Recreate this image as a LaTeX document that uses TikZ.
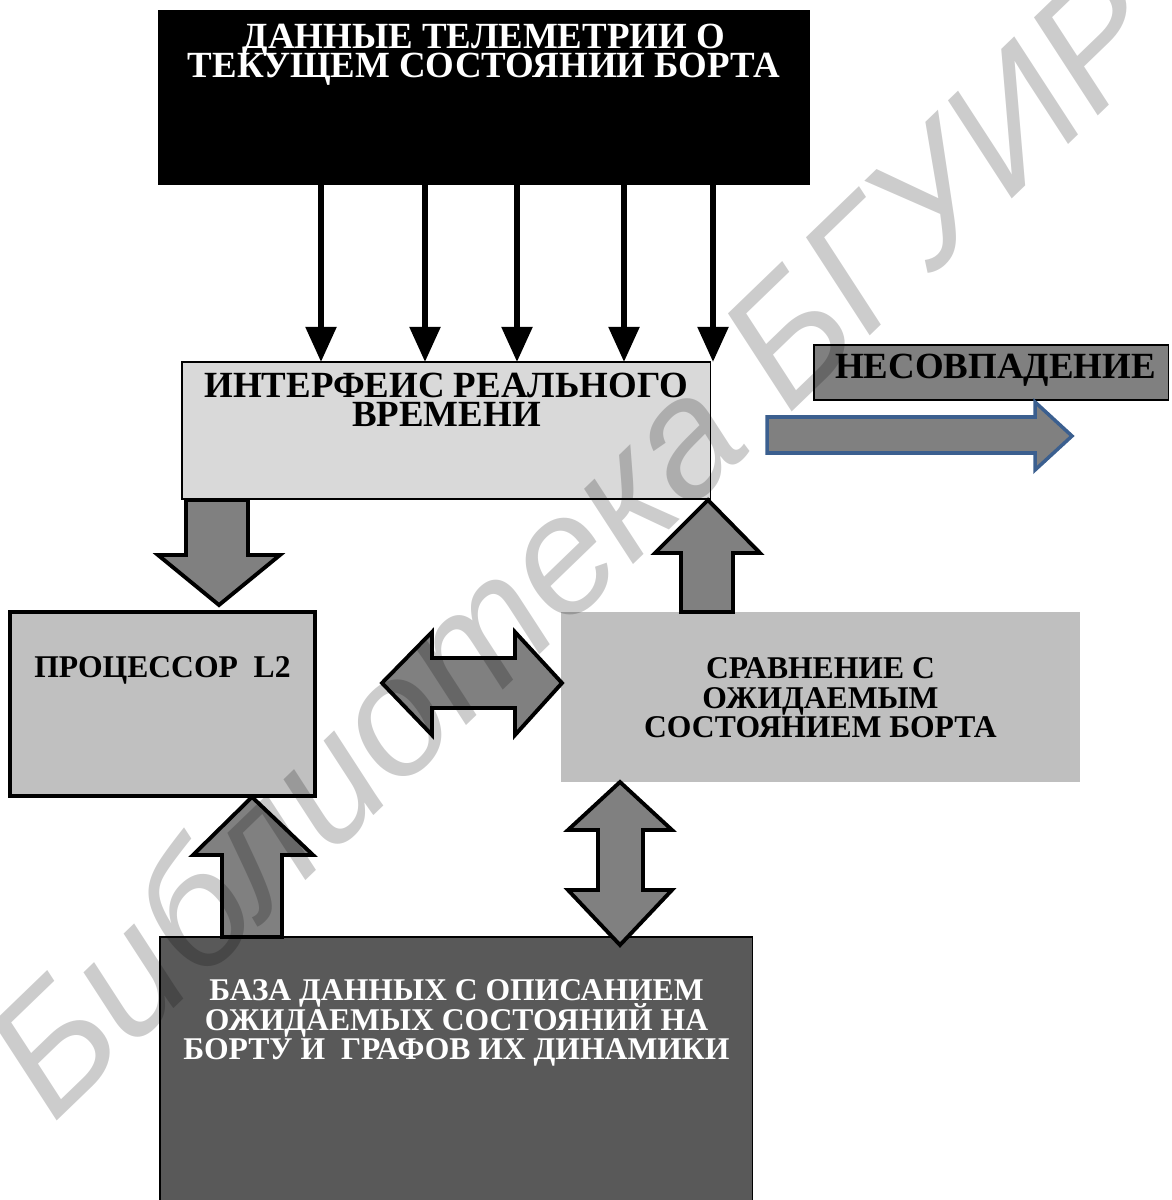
\documentclass[tikz,border=0pt]{standalone}
\usepackage{fontspec}
\setmainfont{Liberation Serif}
\newfontfamily\wmfont{Liberation Sans}
\usetikzlibrary{arrows.meta,calc,positioning}
\definecolor{ifacegray}{HTML}{D9D9D9}
\definecolor{procgray}{HTML}{C0C0C0}
\definecolor{cmpgray}{HTML}{BFBFBF}
\definecolor{dbgray}{HTML}{595959}
\definecolor{arrgray}{HTML}{808080}
\definecolor{steel}{HTML}{3B5F8F}
\lineskiplimit=-20pt

\begin{document}
\begin{tikzpicture}[x=0.02cm,y=-0.02cm,
  box/.style={anchor=north west,inner sep=0pt,outer sep=0pt},
  lbl/.style={align=center,inner sep=0pt,font=\bfseries\fontsize{21}{16.5}\selectfont},
  lblsmall/.style={align=center,inner sep=0pt,font=\bfseries\fontsize{18}{16.8}\selectfont},
  feed/.style={line width=3.4pt,-{Triangle[length=20pt,width=17pt]}},
  blockarr/.style={fill=arrgray,draw=black,line width=2.2pt,line join=miter}]
  \useasboundingbox (0,0) rectangle (1171,1200);
  \clip (0,0) rectangle (1171,1200);
  \node[box,fill=black,minimum width=13.04cm,minimum height=3.5cm] (tele) at (158,10) {};
  \node[lbl,text=white] (teletxt) at ($(tele.north)+(0,45)$) {ДАННЫЕ ТЕЛЕМЕТРИИ О\\ТЕКУЩЕМ СОСТОЯНИИ БОРТА};
  \node[box,fill=ifacegray,draw=black,line width=0.6pt,minimum width=10.58cm,minimum height=2.74cm] (iface) at (182,362) {};
  \node[lbl] (ifacetxt) at ($(iface.north)+(0,38)$) {ИНТЕРФЕИС РЕАЛЬНОГО\\ВРЕМЕНИ};
  \foreach \x in {321,425,517,624,713}{\draw[feed] (\x,0 |- tele.south) -- (\x,0 |- iface.north);}
  \node[box,fill=arrgray,draw=black,line width=0.6pt,minimum width=7.1cm,minimum height=1.1cm] (neso) at (814,345) {};
  \node[lbl] (nesotxt) at ($(neso.center)+(4,-2)$) {НЕСОВПАДЕНИЕ};
  \draw[fill=arrgray,draw=steel,line width=2pt,line join=miter] (767,417) -- (1035,417) -- (1035,402) -- (1072,436) -- (1035,470) -- (1035,453) -- (767,453) -- cycle;
  \node[box,fill=procgray,draw=black,line width=2.4pt,minimum width=6.1cm,minimum height=3.68cm] (proc) at (10,612) {};
  \node[lblsmall] (proctxt) at ($(proc.north)+(0,58)$) {ПРОЦЕССОР~ L2};
  \node[box,fill=cmpgray,minimum width=10.38cm,minimum height=3.4cm] (cmp) at (561,612) {};
  \node[lblsmall] (cmptxt) at ($(cmp.center)+(0,1)$) {СРАВНЕНИЕ С\\ОЖИДАЕМЫМ\\СОСТОЯНИЕМ БОРТА};
  \node[box,fill=dbgray,draw=black,line width=0.6pt,minimum width=11.86cm,minimum height=5.6cm] (db) at (160,937) {};
  \node[lblsmall,text=white] (dbtxt) at ($(db.north)+(0,86)$) {БАЗА ДАННЫХ С ОПИСАНИЕМ\\ОЖИДАЕМЫХ СОСТОЯНИЙ НА\\БОРТУ И~ ГРАФОВ ИХ ДИНАМИКИ};
  \draw[blockarr] (186,500) -- (248,500) -- (248,555) -- (280,555) -- (219,605) -- (158,555) -- (186,555) -- cycle;
  \draw[blockarr] (681,612) -- (681,553) -- (655,553) -- (708,500) -- (760,553) -- (733,553) -- (733,612) -- cycle;
  \draw[blockarr] (382,683) -- (432,632) -- (432,658) -- (515,658) -- (515,632) -- (562,683) -- (515,735) -- (515,708) -- (432,708) -- (432,735) -- cycle;
  \draw[blockarr] (620,782) -- (672,830) -- (643,830) -- (643,890) -- (672,890) -- (620,945) -- (568,890) -- (598,890) -- (598,830) -- (568,830) -- cycle;
  \draw[blockarr] (222,937) -- (222,855) -- (193,855) -- (252,797) -- (313,855) -- (282,855) -- (282,937) -- cycle;
  \node[rotate=44,text=black,text opacity=0.2,inner sep=0pt,font=\wmfont\itshape\fontsize{95}{95}\selectfont] (wm) at (572,540) {Библиотека БГУИР};
\end{tikzpicture}
\end{document}
